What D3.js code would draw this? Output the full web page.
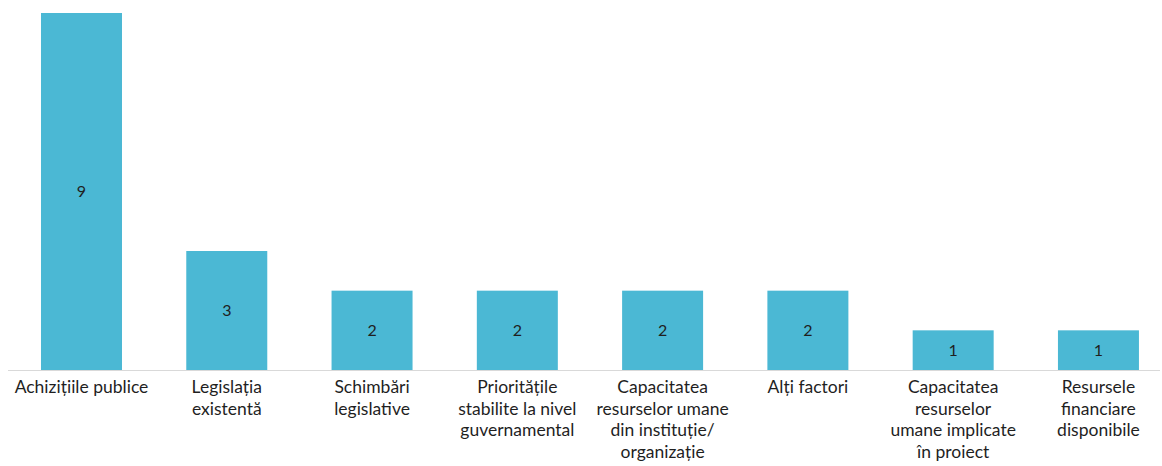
<!DOCTYPE html>
<html>
<head>
<meta charset="utf-8">
<script src="https://cdn.jsdelivr.net/npm/d3@7"></script>
<style>
  html, body { margin: 0; padding: 0; background: #ffffff; }
  svg { display: block; font-family: Lato, "Open Sans", sans-serif; }
</style>
</head>
<body>
<svg id="chart" width="1162" height="466"></svg>
<script>
// Categories (line breaks mark where each label wraps)
const categories = [
  "Achizițiile publice",
  "Legislația\nexistentă",
  "Schimbări\nlegislative",
  "Prioritățile\nstabilite la nivel\nguvernamental",
  "Capacitatea\nresurselor umane\ndin instituție/\norganizație",
  "Alți factori",
  "Capacitatea\nresurselor\numane implicate\nîn proiect",
  "Resursele\nfinanciare\ndisponibile"
];
const values = [9, 3, 2, 2, 2, 2, 1, 1];

const svg = d3.select("#chart");
const baseY = 370;
const barColor = "#4bb8d4";
const textColor = "#1f1f1f";

const x = d3.scaleBand()
  .domain(categories)
  .range([11.94, 1168.0])
  .paddingInner(0.4425)
  .paddingOuter(0.2);

const y = d3.scaleLinear()
  .domain([0, 9])
  .range([baseY, 13]);

// Baseline
svg.append("line")
  .attr("x1", 8).attr("x2", 1160)
  .attr("y1", baseY + 0.5).attr("y2", baseY + 0.5)
  .attr("stroke", "#d9d9d9")
  .attr("stroke-width", 1);

// Bars
svg.append("g").selectAll("rect")
  .data(values)
  .join("rect")
  .attr("x", (d, i) => x(categories[i]))
  .attr("y", d => y(d))
  .attr("width", x.bandwidth())
  .attr("height", d => baseY - y(d))
  .attr("fill", barColor);

// Value labels, centred in each bar
svg.append("g").selectAll("text")
  .data(values)
  .join("text")
  .attr("x", (d, i) => x(categories[i]) + x.bandwidth() / 2)
  .attr("y", d => (y(d) + baseY) / 2)
  .attr("dy", "0.35em")
  .attr("text-anchor", "middle")
  .attr("font-size", 16)
  .attr("fill", textColor)
  .text(d => d);

// Category labels beneath the baseline
const labels = svg.append("g").selectAll("text")
  .data(categories)
  .join("text")
  .attr("x", d => x(d) + x.bandwidth() / 2)
  .attr("y", 393)
  .attr("text-anchor", "middle")
  .attr("font-size", 17.5)
  .attr("fill", textColor);

labels.each(function(d) {
  const t = d3.select(this);
  d.split("\n").forEach((line, i) => {
    t.append("tspan")
      .attr("x", x(d) + x.bandwidth() / 2)
      .attr("dy", i === 0 ? 0 : 21.7)
      .text(line);
  });
});
</script>
</body>
</html>
